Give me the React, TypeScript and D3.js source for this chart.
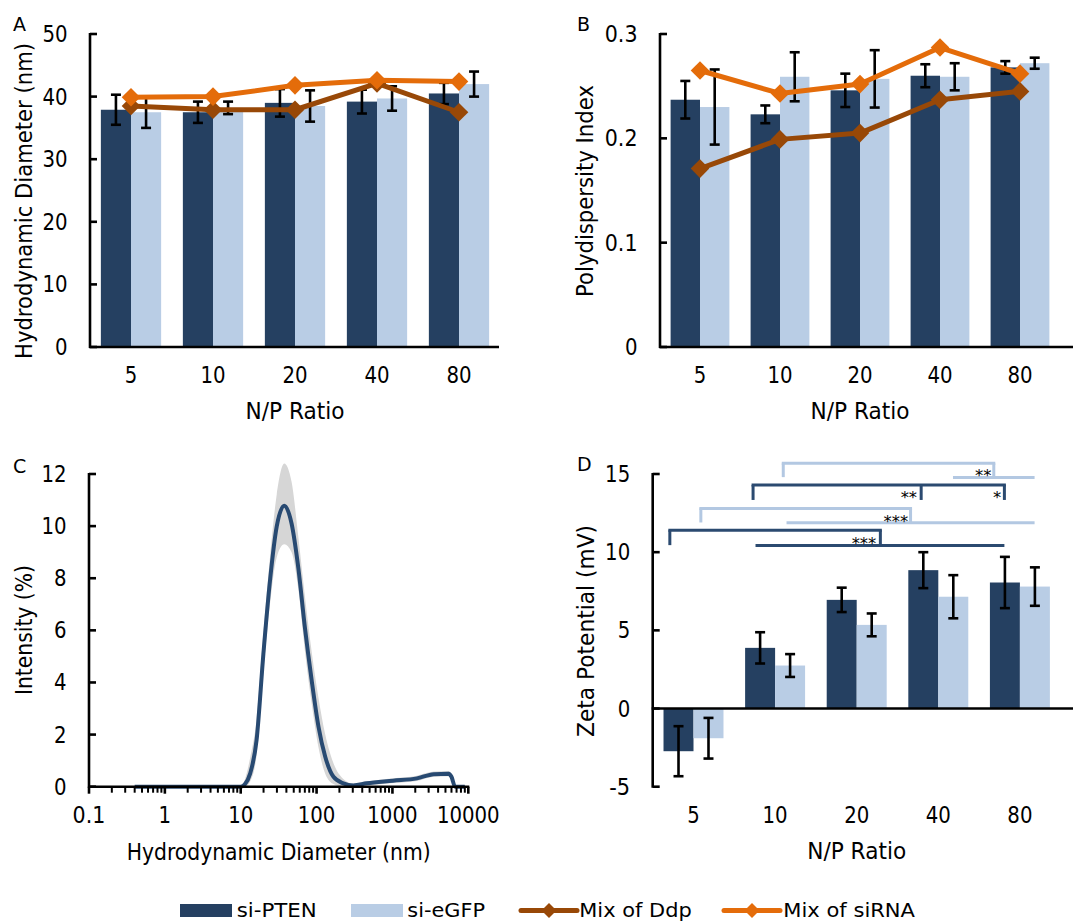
import React from 'react';
import * as d3 from 'd3';

// ---------------- DATA ----------------
const categories = ['5', '10', '20', '40', '80'];

// Panel A: hydrodynamic diameter (nm)
const diamPten = [37.9, 37.5, 39.0, 39.2, 40.5];
const diamPtenErr = [2.4, 1.7, 2.2, 1.9, 1.7];
const diamEgfp = [37.5, 38.2, 38.5, 39.7, 42.0];
const diamEgfpErr = [2.5, 1.0, 2.5, 1.95, 2.0];
const diamDdp = [38.5, 37.9, 37.9, 42.1, 37.5];
const diamSirna = [39.9, 40.0, 41.8, 42.6, 42.4];
const diamTicks = [0, 10, 20, 30, 40, 50];

// Panel B: polydispersity index
const pdiPten = [0.237, 0.223, 0.246, 0.26, 0.268];
const pdiPtenErr = [0.018, 0.0085, 0.016, 0.011, 0.006];
const pdiEgfp = [0.23, 0.259, 0.257, 0.259, 0.272];
const pdiEgfpErr = [0.036, 0.0235, 0.0275, 0.013, 0.0053];
const pdiDdp = [0.171, 0.199, 0.205, 0.237, 0.245];
const pdiSirna = [0.265, 0.243, 0.252, 0.287, 0.262];
const pdiTicks = [0, 0.1, 0.2, 0.3];

// Panel C: DLS intensity distribution
const dlsSize = [0.4, 1, 5, 10, 11.4, 13.3, 16.2, 19.9, 24.3, 29.8, 37.5, 46.8, 57.4, 70.2, 86, 106, 130, 167, 225, 305, 456, 1020, 2100, 3500, 5500, 6000, 6700, 9000];
const dlsMean = [0, 0, 0, 0, 0.1, 0.5, 1.8, 5.1, 7.9, 9.98, 10.78, 10.1, 8.4, 6.1, 4.1, 2.3, 1.15, 0.38, 0.13, 0.05, 0.13, 0.23, 0.32, 0.48, 0.5, 0.38, 0, 0];
const dlsUpper = [0, 0, 0, 0, 0.3, 1.1, 2.6, 5.9, 8.8, 11.2, 12.4, 11.7, 9.6, 7.3, 5.2, 3.4, 2.0, 0.9, 0.3, 0.12, 0.2, 0.32, 0.42, 0.58, 0.6, 0.48, 0.05, 0];
const dlsLower = [0, 0, 0, 0, 0, 0.2, 1.2, 4.4, 7.0, 8.8, 9.3, 9.0, 7.6, 5.2, 3.2, 1.5, 0.5, 0.1, 0, 0, 0.05, 0.14, 0.22, 0.38, 0.4, 0.28, 0, 0];
const dlsXTicks = [0.1, 1, 10, 100, 1000, 10000];
const dlsXTickLabels = ['0.1', '1', '10', '100', '1000', '10000'];
const dlsYTicks = [0, 2, 4, 6, 8, 10, 12];

// Panel D: zeta potential (mV)
const zetaPten = [-2.73, 3.88, 6.95, 8.85, 8.06];
const zetaPtenErr = [1.6, 1.0, 0.78, 1.15, 1.64];
const zetaEgfp = [-1.9, 2.75, 5.35, 7.15, 7.8];
const zetaEgfpErr = [1.3, 0.73, 0.73, 1.38, 1.23];
const zetaTicks = [-5, 0, 5, 10, 15];

// significance brackets (x in category-index units, y in mV)
const sigBrackets = [
  { tone: 'light', x1: 1.1, x2: 3.68, mid: null as number | null, top: 15.68, bottom: 14.8 },
  { tone: 'dark', x1: 0.73, x2: 3.81, mid: 2.79 as number | null, top: 14.3, bottom: 13.34 },
  { tone: 'light', x1: 0.09, x2: 2.66, mid: null as number | null, top: 12.8, bottom: 11.9 },
  { tone: 'dark', x1: -0.29, x2: 2.29, mid: null as number | null, top: 11.4, bottom: 10.45 },
];
const sigLines = [
  { tone: 'light', x1: 3.18, x2: 4.18, y: 14.78 },
  { tone: 'light', x1: 1.14, x2: 4.18, y: 11.88 },
  { tone: 'dark', x1: 0.76, x2: 3.81, y: 10.42 },
];
const sigStars = [
  { text: '**', right: 3.65, bottom: 14.85 },
  { text: '**', right: 2.74, bottom: 13.45 },
  { text: '*', right: 3.77, bottom: 13.45 },
  { text: '***', right: 2.63, bottom: 11.95 },
  { text: '***', right: 2.24, bottom: 10.5 },
];

const legendItems = ['si-PTEN', 'si-eGFP', 'Mix of Ddp', 'Mix of siRNA'];

// ---------------- STYLE ----------------
const DARK = '#254061';
const LIGHT = '#B9CDE5';
const BROWN = '#984807';
const ORANGE = '#E46C0A';
const CURVE = '#284A72';
const BAND = '#D6D6D6';
const FONT = '"DejaVu Sans", Verdana, sans-serif';
const AX = 2.6;

// Tahoma-like advance widths (em) to size text with textLength
const TW: Record<string, number> = {
  '0': 0.546, '1': 0.546, '2': 0.546, '3': 0.546, '4': 0.546, '5': 0.546, '6': 0.546, '7': 0.546, '8': 0.546, '9': 0.546,
  '.': 0.332, '-': 0.363, ' ': 0.313, '*': 0.546,
};
const tw = (s: string, size: number) => {
  let w = 0;
  for (const c of s) w += TW[c] ?? 0.55;
  return w * size;
};

function Txt(p: {
  x: number; y: number; s: string; size?: number; anchor?: 'start' | 'middle' | 'end'; len?: number; rotate?: boolean; weight?: number;
}) {
  const size = p.size ?? 22.5;
  const common: any = {
    fontFamily: FONT,
    fontSize: size,
    fill: '#000',
    textAnchor: p.anchor ?? 'start',
    fontWeight: p.weight ?? 400,
  };
  if (p.len) {
    common.textLength = p.len;
    common.lengthAdjust = 'spacingAndGlyphs';
  }
  if (p.rotate) {
    return (
      <text transform={`translate(${p.x},${p.y}) rotate(-90)`} {...common}>
        {p.s}
      </text>
    );
  }
  return (
    <text x={p.x} y={p.y} {...common}>
      {p.s}
    </text>
  );
}

const diamondPath = (half: number) => {
  const a = half * Math.SQRT2;
  return d3.symbol().type(d3.symbolSquare).size(a * a)() as string;
};

type BarProps = {
  left: number; right: number; axisEnd: number; top: number; bottom: number;
  domain: [number, number]; ticks: number[]; fmt: (v: number) => string;
  pten: number[]; ptenErr: number[]; egfp: number[]; egfpErr: number[];
  ddp?: number[]; sirna?: number[];
  letter: string; letterX: number; yTitle: string; yTitleX: number; yTitleY: number; yTitleLen: number;
  children?: (x: d3.ScaleLinear<number, number>, y: d3.ScaleLinear<number, number>) => React.ReactNode;
};

function BarPanel(p: BarProps) {
  const y = d3.scaleLinear().domain(p.domain).range([p.bottom, p.top]);
  const xb = d3.scaleBand<string>().domain(categories).range([p.left, p.right]).paddingInner(0.265).paddingOuter(0.1325);
  const sub = d3.scaleBand<string>().domain(['pten', 'egfp']).range([0, xb.bandwidth()]);
  const xi = d3.scaleLinear().domain([-0.5, categories.length - 0.5]).range([p.left, p.right]);
  const y0 = y(0);
  const center = (c: string) => (xb(c) as number) + xb.bandwidth() / 2;
  const series = [
    { key: 'pten', vals: p.pten, errs: p.ptenErr, color: DARK },
    { key: 'egfp', vals: p.egfp, errs: p.egfpErr, color: LIGHT },
  ];
  const lineGen = d3.line<number>().x((_, i) => center(categories[i])).y((v) => y(v));
  const dpath = diamondPath(9.3);
  const lines = [
    { vals: p.ddp, color: BROWN },
    { vals: p.sirna, color: ORANGE },
  ];
  return (
    <g>
      {series.map((s) =>
        s.vals.map((v, i) => {
          const x = (xb(categories[i]) as number) + (sub(s.key) as number);
          return (
            <rect key={s.key + i} x={x} y={Math.min(y(v), y0)} width={sub.bandwidth()} height={Math.abs(y(v) - y0)} fill={s.color} />
          );
        })
      )}
      {series.map((s) =>
        s.vals.map((v, i) => {
          const cx = (xb(categories[i]) as number) + (sub(s.key) as number) + sub.bandwidth() / 2;
          const yt = y(v + s.errs[i]);
          const ybm = y(v - s.errs[i]);
          return (
            <g key={'e' + s.key + i} stroke="#000" strokeWidth={2.6}>
              <line x1={cx} x2={cx} y1={yt} y2={ybm} />
              <line x1={cx - 5} x2={cx + 5} y1={yt} y2={yt} />
              <line x1={cx - 5} x2={cx + 5} y1={ybm} y2={ybm} />
            </g>
          );
        })
      )}
      {lines.map((l, li) =>
        l.vals ? (
          <g key={'l' + li}>
            <path d={lineGen(l.vals) as string} fill="none" stroke={l.color} strokeWidth={5} strokeLinejoin="round" />
            {l.vals.map((v, i) => (
              <path key={i} d={dpath} transform={`translate(${center(categories[i])},${y(v)}) rotate(45)`} fill={l.color} />
            ))}
          </g>
        ) : null
      )}
      {/* axes */}
      <line x1={p.left} x2={p.left} y1={p.top - 1} y2={p.bottom + 1} stroke="#000" strokeWidth={AX} />
      <line x1={p.left - 1} x2={p.axisEnd} y1={y0} y2={y0} stroke="#000" strokeWidth={AX} />
      {p.ticks.map((t) => (
        <g key={'t' + t}>
          <line x1={p.left} x2={p.left + 7} y1={y(t)} y2={y(t)} stroke="#000" strokeWidth={AX} />
          <Txt x={p.left - 22.5} y={y(t) + 8} s={p.fmt(t)} anchor="end" len={tw(p.fmt(t), 23)} />
        </g>
      ))}
      {categories.map((c) => (
        <Txt key={'c' + c} x={center(c)} y={p.bottom + 36} s={c} anchor="middle" len={tw(c, 23)} />
      ))}
      <Txt x={(p.left + p.right) / 2} y={p.bottom + 72} s="N/P Ratio" anchor="middle" len={99} />
      <Txt x={p.yTitleX} y={p.yTitleY} s={p.yTitle} anchor="middle" len={p.yTitleLen} rotate />
      <Txt x={p.letterX} y={p.top - 3.5} s={p.letter} size={19} />
      {p.children ? p.children(xi, y) : null}
    </g>
  );
}

function DlsPanel() {
  const left = 89, right = 468.3, top = 474, bottom = 786.7;
  const x = d3.scaleLog().domain([0.1, 10000]).range([left, right]);
  const y = d3.scaleLinear().domain([0, 12]).range([bottom, top]);
  const area = d3
    .area<number>()
    .x((_, i) => x(dlsSize[i]))
    .y0((_, i) => y(dlsLower[i]))
    .y1((_, i) => y(dlsUpper[i]))
    .curve(d3.curveMonotoneX);
  const line = d3
    .line<number>()
    .x((_, i) => x(dlsSize[i]))
    .y((v) => y(v))
    .curve(d3.curveMonotoneX);
  const minor: number[] = [];
  for (let e = -1; e < 4; e++) for (let k = 2; k <= 9; k++) minor.push(k * Math.pow(10, e));
  return (
    <g>
      <path d={area(dlsSize) as string} fill={BAND} />
      <path d={line(dlsMean) as string} fill="none" stroke={CURVE} strokeWidth={4} strokeLinejoin="round" />
      <line x1={left} x2={left} y1={top - 1} y2={bottom + 1} stroke="#000" strokeWidth={AX} />
      <line x1={left - 1} x2={right + 1} y1={bottom} y2={bottom} stroke="#000" strokeWidth={AX} />
      {dlsYTicks.map((t) => (
        <g key={t}>
          <line x1={left} x2={left + 7} y1={y(t)} y2={y(t)} stroke="#000" strokeWidth={AX} />
          <Txt x={left - 22.5} y={y(t) + 8} s={String(t)} anchor="end" len={tw(String(t), 23)} />
        </g>
      ))}
      {dlsXTicks.map((t, i) => (
        <g key={'x' + t}>
          <line x1={x(t)} x2={x(t)} y1={bottom} y2={bottom + 7} stroke="#000" strokeWidth={AX} />
          <Txt x={x(t)} y={bottom + 36.6} s={dlsXTickLabels[i]} anchor="middle" len={tw(dlsXTickLabels[i], 23)} />
        </g>
      ))}
      {minor.map((t) => (
        <line key={'m' + t} x1={x(t)} x2={x(t)} y1={bottom} y2={bottom + 6} stroke="#000" strokeWidth={2} />
      ))}
      <Txt x={(left + right) / 2} y={bottom + 73.3} s="Hydrodynamic Diameter (nm)" anchor="middle" len={304} />
      <Txt x={31.7} y={630} s="Intensity (%)" anchor="middle" len={130} rotate />
      <Txt x={13} y={472.5} s="C" size={19} />
    </g>
  );
}

export default function App() {
  const dLegend = diamondPath(7.5);
  return (
    <svg
      width={1073}
      height={921}
      viewBox="0 0 1073 921"
      style={{ position: 'absolute', left: 0, top: 0, background: '#fff', display: 'block' }}
    >
      <rect x={0} y={0} width={1073} height={921} fill="#fff" />
      <BarPanel
        left={90} right={500} axisEnd={499} top={34} bottom={347}
        domain={[0, 50]} ticks={diamTicks} fmt={(v) => String(v)}
        pten={diamPten} ptenErr={diamPtenErr} egfp={diamEgfp} egfpErr={diamEgfpErr}
        ddp={diamDdp} sirna={diamSirna}
        letter="A" letterX={13} yTitle="Hydrodynamic Diameter (nm)" yTitleX={31.7} yTitleY={201} yTitleLen={316}
      />
      <BarPanel
        left={660} right={1060} axisEnd={1073} top={34} bottom={347}
        domain={[0, 0.3]} ticks={pdiTicks} fmt={(v) => (v === 0 ? '0' : v.toFixed(1))}
        pten={pdiPten} ptenErr={pdiPtenErr} egfp={pdiEgfp} egfpErr={pdiEgfpErr}
        ddp={pdiDdp} sirna={pdiSirna}
        letter="B" letterX={577} yTitle="Polydispersity Index" yTitleX={593.3} yTitleY={191} yTitleLen={212}
      />
      <DlsPanel />
      <BarPanel
        left={652.7} right={1060.7} axisEnd={1073} top={474} bottom={786.7}
        domain={[-5, 15]} ticks={zetaTicks} fmt={(v) => String(v)}
        pten={zetaPten} ptenErr={zetaPtenErr} egfp={zetaEgfp} egfpErr={zetaEgfpErr}
        letter="D" letterX={577} yTitle="Zeta Potential (mV)" yTitleX={594} yTitleY={631} yTitleLen={212}
      >
        {(xi, y) => (
          <g>
            {sigBrackets.map((b, i) => {
              const c = b.tone === 'dark' ? '#2B4A70' : '#B3C8E2';
              const xs = [b.x1, b.x2, ...(b.mid !== null ? [b.mid] : [])];
              return (
                <g key={'b' + i} stroke={c} strokeWidth={3} fill="none">
                  <line x1={xi(b.x1)} x2={xi(b.x2)} y1={y(b.top)} y2={y(b.top)} strokeLinecap="square" />
                  {xs.map((xv, j) => (
                    <line key={j} x1={xi(xv)} x2={xi(xv)} y1={y(b.top)} y2={y(b.bottom)} />
                  ))}
                </g>
              );
            })}
            {sigLines.map((l, i) => (
              <line key={'sl' + i} x1={xi(l.x1)} x2={xi(l.x2)} y1={y(l.y)} y2={y(l.y)} stroke={l.tone === 'dark' ? '#2B4A70' : '#B3C8E2'} strokeWidth={3} />
            ))}
            {sigStars.map((s, i) => (
              <Txt key={'st' + i} x={xi(s.right)} y={y(s.bottom) + 5} s={s.text} anchor="end" size={16} len={s.text.length * 8.2} />
            ))}
          </g>
        )}
      </BarPanel>
      {/* legend */}
      <g>
        <rect x={180} y={904} width={52} height={13} fill={DARK} />
        <Txt x={236.7} y={917.3} s={legendItems[0]} size={19.5} len={80} />
        <rect x={351} y={904} width={52} height={13} fill={LIGHT} />
        <Txt x={407.3} y={917.3} s={legendItems[1]} size={19.5} len={77.7} />
        <line x1={521} x2={577} y1={910.5} y2={910.5} stroke={BROWN} strokeWidth={5} strokeLinecap="round" />
        <path d={dLegend} transform="translate(549,910.5) rotate(45)" fill={BROWN} />
        <Txt x={579.3} y={917.3} s={legendItems[2]} size={19.5} len={112.4} />
        <line x1={724} x2={780} y1={910.5} y2={910.5} stroke={ORANGE} strokeWidth={5} strokeLinecap="round" />
        <path d={dLegend} transform="translate(752,910.5) rotate(45)" fill={ORANGE} />
        <Txt x={783.3} y={917.3} s={legendItems[3]} size={19.5} len={131.7} />
      </g>
    </svg>
  );
}
